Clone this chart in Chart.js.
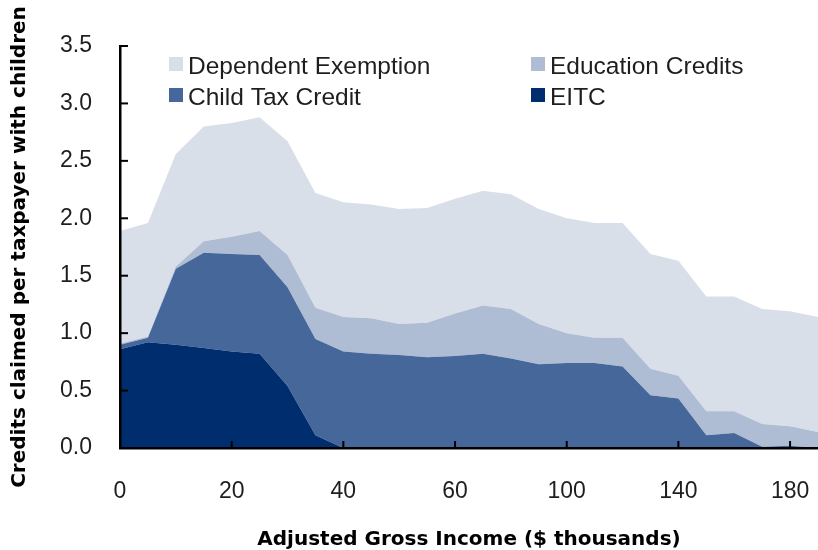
<!DOCTYPE html>
<html>
<head>
<meta charset="utf-8">
<script src="https://cdn.jsdelivr.net/npm/chart.js@4.4.1/dist/chart.umd.min.js"></script>
<style>
  html, body { margin: 0; padding: 0; background: #fff; }
  #wrap { width: 818px; height: 550px; position: relative; }
</style>
</head>
<body>
<div id="wrap"><canvas id="chart"></canvas></div>
<script>
// AGI buckets ($ thousands)
const incomes = [0, 5, 10, 15, 20, 25, 30, 35, 40, 45, 50, 55, 60,
                 70, 80, 90, 100, 110, 120, 130, 140, 150, 160, 170, 180, 190];
const xTickLabels = [0, 20, 40, 60, 100, 140, 180];

// credits claimed per taxpayer with children
const eitc = [0.86, 0.92, 0.90, 0.87, 0.84, 0.82, 0.54, 0.11, 0.00, 0.00, 0.00, 0.00, 0.00,
              0.00, 0.00, 0.00, 0.00, 0.00, 0.00, 0.00, 0.00, 0.00, 0.00, 0.00, 0.00, 0.00];
const childTaxCredit = [0.04, 0.04, 0.66, 0.83, 0.85, 0.86, 0.86, 0.84, 0.84, 0.82, 0.81, 0.79, 0.80,
                        0.82, 0.78, 0.73, 0.74, 0.74, 0.71, 0.46, 0.43, 0.11, 0.13, 0.01, 0.02, 0.00];
const educationCredits = [0.01, 0.01, 0.02, 0.10, 0.15, 0.21, 0.28, 0.27, 0.30, 0.31, 0.27, 0.30, 0.37,
                          0.42, 0.43, 0.35, 0.26, 0.22, 0.25, 0.23, 0.20, 0.21, 0.19, 0.20, 0.17, 0.14];
const dependentExemption = [0.98, 0.99, 0.98, 1.00, 0.99, 0.99, 0.99, 1.00, 1.00, 0.99, 1.00, 1.00, 1.00,
                            1.00, 1.00, 1.00, 1.00, 1.00, 1.00, 1.00, 1.00, 1.00, 1.00, 1.00, 1.00, 1.00];

const FONT = '"Liberation Sans", Arial, Helvetica, sans-serif';
const TITLE_FONT = '"DejaVu Sans", Verdana, sans-serif';
const TEXT = '#1e1e1e';

// tick marks point into the plot in the original
const insideTicks = {
  id: 'insideTicks',
  afterDatasetsDraw(chart) {
    const ctx = chart.ctx;
    const x = chart.scales.x, y = chart.scales.y;
    ctx.save();
    ctx.strokeStyle = '#000';
    ctx.lineWidth = 2;
    y.ticks.forEach((t, i) => {
      const py = y.getPixelForTick(i);
      ctx.beginPath();
      ctx.moveTo(x.left, py);
      ctx.lineTo(x.left + 8, py);
      ctx.stroke();
    });
    incomes.forEach((v, i) => {
      if (i === 0 || !xTickLabels.includes(v)) return;
      const px = x.getPixelForValue(i);
      ctx.beginPath();
      ctx.moveTo(px, y.bottom);
      ctx.lineTo(px, y.bottom - 7);
      ctx.stroke();
    });
    ctx.restore();
  }
};

// two column legend sitting inside the plot
const innerLegend = {
  id: 'innerLegend',
  afterDraw(chart) {
    const ctx = chart.ctx, a = chart.chartArea;
    const order = [3, 2, 1, 0];
    ctx.save();
    ctx.font = '24.5px ' + FONT;
    ctx.textBaseline = 'alphabetic';
    order.forEach((di, k) => {
      const ds = chart.data.datasets[di];
      const bx = a.left + 49 + (k % 2) * 362;
      const by = a.top + 11 + Math.floor(k / 2) * 31;
      ctx.fillStyle = ds.backgroundColor;
      ctx.fillRect(bx, by, 14, 14);
      ctx.fillStyle = TEXT;
      ctx.fillText(ds.label, bx + 19, by + 17);
    });
    ctx.restore();
  }
};

const ctx = document.getElementById('chart');
new Chart(ctx, {
  type: 'line',
  data: {
    labels: incomes,
    datasets: [
      { label: 'EITC', data: eitc, backgroundColor: '#002d6e', fill: 'origin' },
      { label: 'Child Tax Credit', data: childTaxCredit, backgroundColor: '#45679a', fill: '-1' },
      { label: 'Education Credits', data: educationCredits, backgroundColor: '#aebdd4', fill: '-1' },
      { label: 'Dependent Exemption', data: dependentExemption, backgroundColor: '#d9dfe9', fill: '-1' }
    ]
  },
  options: {
    responsive: true,
    maintainAspectRatio: false,
    animation: false,
    layout: { padding: { top: 46, right: 0, bottom: 0, left: 0 } },
    elements: {
      point: { radius: 0 },
      line: { borderWidth: 0, tension: 0 }
    },
    plugins: {
      legend: { display: false },
      tooltip: { enabled: false }
    },
    scales: {
      x: {
        type: 'category',
        offset: false,
        grid: { display: false, drawTicks: false },
        border: { display: true, color: '#000', width: 2.5, z: 1 },
        ticks: {
          autoSkip: false,
          maxRotation: 0,
          padding: 30,
          color: TEXT,
          font: { family: FONT, size: 23 },
          callback(v, i) {
            return xTickLabels.includes(incomes[i]) ? String(incomes[i]) : '';
          }
        },
        title: {
          display: true,
          text: 'Adjusted Gross Income ($ thousands)',
          color: '#000',
          font: { family: TITLE_FONT, size: 20, weight: 'bold', lineHeight: 1.0 },
          padding: { top: 0, bottom: 0 }
        },
        afterFit(s) {
          s.height = 102;
          s.paddingLeft = 0;
          s.paddingRight = 0;
        }
      },
      y: {
        stacked: true,
        min: 0,
        max: 3.5,
        grid: { display: false, drawTicks: false },
        border: { display: true, color: '#000', width: 2.5, z: 1 },
        ticks: {
          stepSize: 0.5,
          padding: 28,
          color: TEXT,
          font: { family: FONT, size: 23 },
          callback: v => v.toFixed(1)
        },
        title: {
          display: true,
          text: 'Credits claimed per taxpayer with children',
          color: '#000',
          font: { family: TITLE_FONT, size: 20, weight: 'bold', lineHeight: 1.0 },
          padding: { top: 10, bottom: 0 }
        },
        afterFit(s) { s.width = 120; }
      }
    }
  },
  plugins: [insideTicks, innerLegend]
});
</script>
</body>
</html>
